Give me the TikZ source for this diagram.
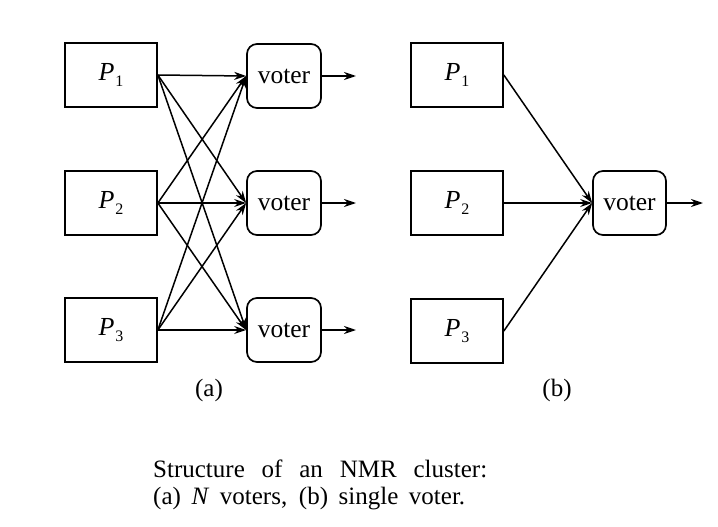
\documentclass[tikz,border=0pt]{standalone}
\usepackage{fontspec}
\setmainfont{Liberation Serif}
\usetikzlibrary{arrows.meta}
\newcommand\Psub[1]{{\fontsize{26}{30}\selectfont\textit{P}}\kern1pt\raisebox{-6pt}{\fontsize{16}{16}\selectfont #1}}
\begin{document}
\begin{tikzpicture}[x=1pt,y=-1pt,
  proc/.style={draw,line width=1.7pt,minimum width=92pt,minimum height=64pt,inner sep=0pt},
  votebox/.style={draw,line width=1.7pt,rounded corners=10pt,minimum width=74pt,minimum height=64pt,inner sep=0pt,font=\fontsize{25.5}{29}\selectfont},
  arr/.style={line width=1.5pt,-{Stealth[length=12pt,width=8pt]}},
  lbl/.style={font=\fontsize{25}{29}\selectfont,inner sep=0pt},
  captext/.style={font=\fontsize{25}{29}\selectfont,inner sep=0pt,anchor=base west}]
\fill[white] (0,0) rectangle (718,527);
\useasboundingbox (0,0) rectangle (718,527);
% (a) N voters
\node[proc] (p1) at (111,75) {\Psub{1}};
\node[proc] (p2) at (111,203) {\Psub{2}};
\node[proc] (p3) at (111,330) {\Psub{3}};
\node[votebox] (v1) at (284,76) {voter};
\node[votebox] (v2) at (284,203) {voter};
\node[votebox] (v3) at (284,330) {voter};
\coordinate (o1) at (356,76);
\coordinate (o2) at (356,203);
\coordinate (o3) at (356,330);
\foreach \i in {1,2,3}{
  \foreach \j in {1,2,3}{
    \draw[arr] (p\i.east) -- (v\j.west);
  }
  \draw[arr] (v\i.east) -- (o\i);
}
\node[lbl] (la) at (209,390) {(a)};
% (b) single voter
\node[proc] (q1) at (457,75) {\Psub{1}};
\node[proc] (q2) at (457,203) {\Psub{2}};
\node[proc] (q3) at (457,331) {\Psub{3}};
\node[votebox,minimum width=73pt] (v) at (629.5,203) {voter};
\coordinate (o) at (703,203);
\draw[arr] (q1.east) -- (v.west);
\draw[arr] (q2.east) -- (v.west);
\draw[arr] (q3.east) -- (v.west);
\draw[arr] (v.east) -- (o);
\node[lbl] (lb) at (557,390) {(b)};
% caption
\node[captext] (c1) at (153,477) {\makebox[334pt][s]{Structure of an NMR cluster:}};
\node[captext] (c2) at (153,504) {\makebox[312pt][s]{(a) \textit{N} voters, (b) single voter.}};
\end{tikzpicture}
\end{document}
